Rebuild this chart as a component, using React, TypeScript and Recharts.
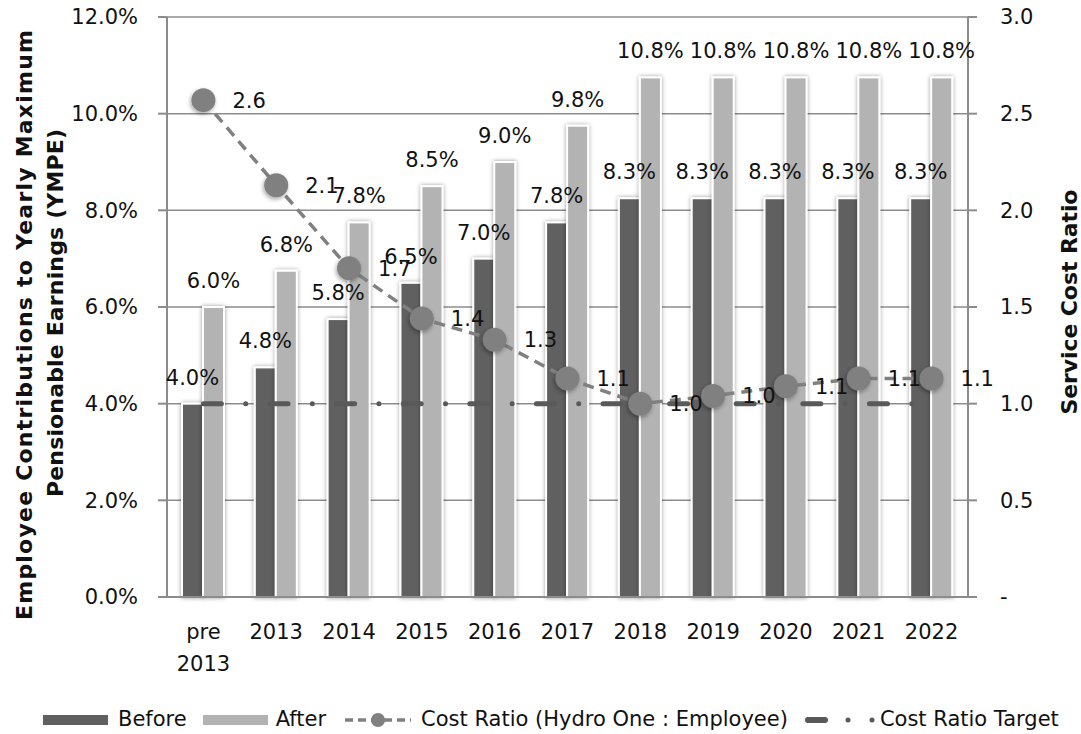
import React from 'react';
import { ComposedChart, Bar, Line, XAxis, YAxis, CartesianGrid, LabelList } from 'recharts';

const years = ['pre 2013', '2013', '2014', '2015', '2016', '2017', '2018', '2019', '2020', '2021', '2022'];
// employee contribution rates, % of YMPE
const before = [4.0, 4.75, 5.75, 6.5, 7.0, 7.75, 8.25, 8.25, 8.25, 8.25, 8.25];
const after = [6.0, 6.75, 7.75, 8.5, 9.0, 9.75, 10.75, 10.75, 10.75, 10.75, 10.75];
// Hydro One : employee service cost ratio
const costRatio = [2.57, 2.13, 1.7, 1.44, 1.33, 1.13, 1.0, 1.04, 1.09, 1.13, 1.13];
const costRatioTarget = [1.0, 1.0, 1.0, 1.0, 1.0, 1.0, 1.0, 1.0, 1.0, 1.0, 1.0];
const pctTicks = [0, 2, 4, 6, 8, 10, 12];
const ratioTicks = [0, 0.5, 1, 1.5, 2, 2.5, 3];

const data = years.map((year, i) => ({
  year,
  before: before[i],
  after: after[i],
  ratio: costRatio[i],
  target: costRatioTarget[i],
}));

const FONT = '"DejaVu Sans", sans-serif';
const FS = 21;
const TEXT = '#111';
const GRID = '#8c8c8c';
const BEFORE = '#606060';
const AFTER = '#b3b3b3';
const RATIO = '#808080';
const TARGET = '#595959';

const GlowBar = (props: any) => {
  const { x, y, width, height, fill } = props;
  if (!height || height <= 0) return null;
  return (
    <rect x={x} y={y} width={width} height={height} fill={fill} stroke="#fff" strokeWidth={2} filter="url(#barGlow)" />
  );
};

const RatioDot = (props: any) => {
  const { cx, cy, index } = props;
  if (cx == null || cy == null) return null;
  return <circle key={`dot-${index}`} cx={cx} cy={cy} r={12} fill={RATIO} filter="url(#dotShadow)" />;
};

const YearTick = (props: any) => {
  const { x, y, payload } = props;
  const lines = String(payload.value).split(' ');
  return (
    <text x={x} y={y} textAnchor="middle" fill={TEXT} fontSize={FS} fontFamily={FONT}>
      {lines.map((l, i) => (
        <tspan key={i} x={x} dy={i === 0 ? 34 : 32}>
          {l}
        </tspan>
      ))}
    </text>
  );
};

const pct = (v: any) => `${Number(v).toFixed(1)}%`;
const ratioFmt = (v: any) => Number(v).toFixed(1);

const LegendRow = () => {
  const item: React.CSSProperties = { display: 'flex', alignItems: 'center' };
  return (
    <div
      style={{
        position: 'absolute',
        left: 43,
        top: 707,
        display: 'flex',
        alignItems: 'center',
        fontFamily: FONT,
        fontSize: FS,
        lineHeight: '25px',
        color: TEXT,
        whiteSpace: 'nowrap',
      }}
    >
      <div style={{ ...item, marginRight: 16 }}>
        <div style={{ width: 65, height: 10, background: BEFORE }} />
        <span style={{ marginLeft: 10 }}>Before</span>
      </div>
      <div style={{ ...item, marginRight: 17 }}>
        <div style={{ width: 65, height: 10, background: AFTER }} />
        <span style={{ marginLeft: 8 }}>After</span>
      </div>
      <div style={{ ...item, marginRight: 17 }}>
        <svg width={70} height={20}>
          <line x1={2} y1={10} x2={68} y2={10} stroke={RATIO} strokeWidth={3.5} strokeDasharray="8 5" />
          <circle cx={35} cy={10} r={7} fill={RATIO} />
        </svg>
        <span style={{ marginLeft: 8 }}>Cost Ratio (Hydro One : Employee)</span>
      </div>
      <div style={item}>
        <svg width={72} height={20}>
          <line x1={3} y1={10} x2={20} y2={10} stroke={TARGET} strokeWidth={6} strokeLinecap="round" />
          <circle cx={43} cy={10} r={2.5} fill={TARGET} />
          <circle cx={67} cy={10} r={2.5} fill={TARGET} />
        </svg>
        <span style={{ marginLeft: 3 }}>Cost Ratio Target</span>
      </div>
    </div>
  );
};

export default function App() {
  return (
    <div style={{ position: 'absolute', left: 0, top: 0, width: 1081, height: 734, background: '#fff' }}>
      <ComposedChart
        width={1081}
        height={690}
        data={data}
        margin={{ top: 17, right: 0, left: 0, bottom: 13 }}
        barGap={0}
        barSize={21}
      >
        <defs>
          <filter id="barGlow" x="-40%" y="-5%" width="180%" height="110%">
            <feDropShadow dx="0" dy="0" stdDeviation="2.2" floodColor="#000" floodOpacity="0.4" />
          </filter>
          <filter id="dotShadow" x="-50%" y="-50%" width="200%" height="200%">
            <feDropShadow dx="-1" dy="2" stdDeviation="2" floodColor="#000" floodOpacity="0.35" />
          </filter>
        </defs>
        <CartesianGrid yAxisId="left" vertical={false} stroke={GRID} strokeWidth={1.5} />
        <XAxis
          dataKey="year"
          interval={0}
          height={80}
          tickLine={false}
          axisLine={{ stroke: GRID, strokeWidth: 2 }}
          tick={<YearTick />}
        />
        <YAxis
          yAxisId="left"
          domain={[0, 12]}
          ticks={pctTicks}
          width={167}
          tickSize={9}
          tickMargin={20}
          tickFormatter={pct}
          axisLine={{ stroke: GRID, strokeWidth: 2 }}
          tickLine={{ stroke: GRID, strokeWidth: 2 }}
          tick={{ fill: TEXT, fontSize: FS, fontFamily: FONT }}
        />
        <YAxis
          yAxisId="right"
          orientation="right"
          domain={[0, 3]}
          ticks={ratioTicks}
          width={113}
          tickSize={9}
          tickMargin={23}
          tickFormatter={(v: number) => (v === 0 ? '-' : v.toFixed(1))}
          axisLine={{ stroke: GRID, strokeWidth: 2 }}
          tickLine={{ stroke: GRID, strokeWidth: 2 }}
          tick={{ fill: TEXT, fontSize: FS, fontFamily: FONT, textAnchor: 'start' }}
        />
        <Bar yAxisId="left" dataKey="before" name="Before" fill={BEFORE} shape={GlowBar} isAnimationActive={false}>
          <LabelList dataKey="before" position="top" offset={19} formatter={pct} fill={TEXT} fontSize={FS} fontFamily={FONT} />
        </Bar>
        <Bar yAxisId="left" dataKey="after" name="After" fill={AFTER} shape={GlowBar} isAnimationActive={false}>
          <LabelList dataKey="after" position="top" offset={19} formatter={pct} fill={TEXT} fontSize={FS} fontFamily={FONT} />
        </Bar>
        <Line
          yAxisId="right"
          type="linear"
          dataKey="ratio"
          name="Cost Ratio (Hydro One : Employee)"
          stroke={RATIO}
          strokeWidth={3.5}
          strokeDasharray="11 7"
          dot={RatioDot}
          activeDot={false}
          isAnimationActive={false}
        >
          <LabelList dataKey="ratio" position="right" offset={29} formatter={ratioFmt} fill={TEXT} fontSize={FS} fontFamily={FONT} />
        </Line>
        <Line
          yAxisId="right"
          type="linear"
          dataKey="target"
          name="Cost Ratio Target"
          stroke={TARGET}
          strokeWidth={5}
          strokeLinecap="round"
          strokeDasharray="18 24.3 0 24.3"
          dot={false}
          activeDot={false}
          isAnimationActive={false}
        />
        <text
          transform="translate(24 325) rotate(-90)"
          textAnchor="middle"
          dominantBaseline="central"
          fontFamily={FONT}
          fontWeight="bold"
          fontSize={22}
          textLength={590}
          lengthAdjust="spacing"
          fill={TEXT}
        >
          Employee Contributions to Yearly Maximum
        </text>
        <text
          transform="translate(55 313) rotate(-90)"
          textAnchor="middle"
          dominantBaseline="central"
          fontFamily={FONT}
          fontWeight="bold"
          fontSize={22}
          textLength={368}
          lengthAdjust="spacing"
          fill={TEXT}
        >
          Pensionable Earnings (YMPE)
        </text>
        <text
          transform="translate(1069 302) rotate(-90)"
          textAnchor="middle"
          dominantBaseline="central"
          fontFamily={FONT}
          fontWeight="bold"
          fontSize={22}
          textLength={225}
          lengthAdjust="spacing"
          fill={TEXT}
        >
          Service Cost Ratio
        </text>
      </ComposedChart>
      <LegendRow />
    </div>
  );
}
